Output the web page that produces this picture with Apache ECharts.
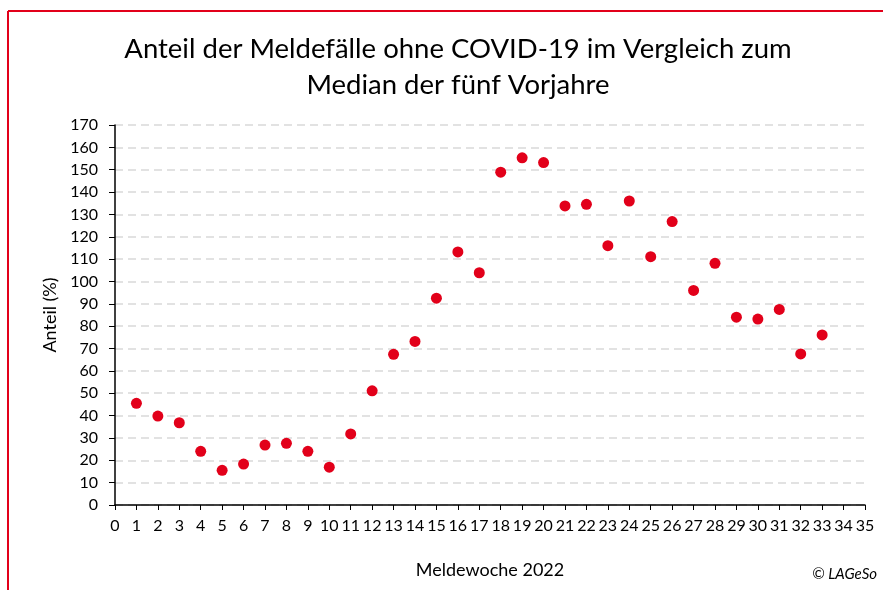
<!DOCTYPE html>
<html>
<head>
<meta charset="utf-8">
<script src="https://cdn.jsdelivr.net/npm/echarts@6/dist/echarts.min.js"></script>
<style>
  html, body { margin: 0; padding: 0; background: #fff; }
  #chart { width: 883px; height: 590px; }
</style>
</head>
<body>
<div id="chart"></div>
<script>
// Meldewoche 2022
var weeks = [1, 2, 3, 4, 5, 6, 7, 8, 9, 10, 11, 12, 13, 14, 15, 16, 17,
  18, 19, 20, 21, 22, 23, 24, 25, 26, 27, 28, 29, 30, 31, 32, 33];
// Anteil (%)
var shares = [45.5, 39.8, 36.8, 24.0, 15.5, 18.3, 26.8, 27.6, 24.0, 16.9, 31.8,
  51.1, 67.4, 73.2, 92.5, 113.2, 103.9, 148.9, 155.3, 153.2, 133.8, 134.5,
  116.0, 136.0, 111.1, 126.8, 96.0, 108.1, 84.0, 83.2, 87.5, 67.6, 76.1];

var font = 'Lato, "Liberation Sans", sans-serif';
var red = '#e2001a';

var chart = echarts.init(document.getElementById('chart'), null, { renderer: 'canvas' });

var points = weeks.map(function (w, i) { return [w, shares[i]]; });

var option = {
  animation: false,
  backgroundColor: '#fff',
  title: {
    text: 'Anteil der Meldefälle ohne COVID-19 im Vergleich zum\nMedian der fünf Vorjahre',
    left: 453,
    textAlign: 'center',
    top: 26,
    textStyle: {
      fontFamily: font,
      fontSize: 27.5,
      fontWeight: 'normal',
      color: '#000',
      lineHeight: 36
    }
  },
  grid: {
    left: 115,
    right: 18,
    top: 125,
    bottom: 85
  },
  xAxis: {
    type: 'value',
    min: 0,
    max: 35,
    interval: 1,
    name: 'Meldewoche 2022',
    nameLocation: 'middle',
    nameGap: 56,
    nameTextStyle: { fontFamily: font, fontSize: 18, color: '#000' },
    axisLine: { lineStyle: { color: '#000', width: 1.5 } },
    axisTick: { show: true, length: 5, lineStyle: { color: '#000' } },
    axisLabel: { fontFamily: font, fontSize: 16, color: '#000', margin: 13 },
    splitLine: { show: false }
  },
  yAxis: {
    type: 'value',
    min: 0,
    max: 170,
    interval: 10,
    name: 'Anteil (%)',
    nameLocation: 'middle',
    nameGap: 56,
    nameTextStyle: { fontFamily: font, fontSize: 18, color: '#000' },
    axisLine: { show: true, lineStyle: { color: '#000', width: 1.5 } },
    axisTick: { show: true, length: 6, lineStyle: { color: '#000' } },
    axisLabel: { fontFamily: font, fontSize: 16, color: '#000', margin: 17 },
    splitLine: {
      show: true,
      lineStyle: { color: '#d9d9d9', type: [8, 5], width: 1.5 }
    }
  },
  graphic: [
    {
      type: 'line',
      shape: { x1: 8, y1: 11, x2: 883, y2: 11 },
      style: { stroke: red, lineWidth: 2 }
    },
    {
      type: 'line',
      shape: { x1: 8, y1: 11, x2: 8, y2: 590 },
      style: { stroke: red, lineWidth: 2 }
    },
    {
      type: 'text',
      right: 6,
      bottom: 8,
      style: {
        text: '© LAGeSo',
        font: 'italic 15px ' + font,
        fill: '#000'
      }
    }
  ],
  series: [{
    type: 'scatter',
    data: points,
    symbol: 'circle',
    symbolSize: 11,
    itemStyle: { color: red, opacity: 1 }
  }]
};

chart.setOption(option);
</script>
</body>
</html>
